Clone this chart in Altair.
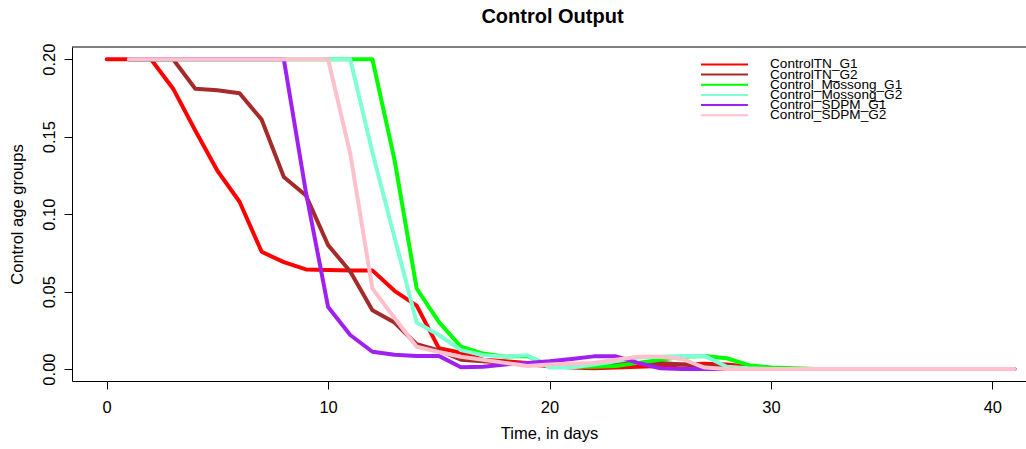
import altair as alt
import pandas as pd

series_names = ["ControlTN_G1", "ControlTN_G2", "Control_Mossong_G1",
                "Control_Mossong_G2", "Control_SDPM_G1", "Control_SDPM_G2"]
series_colors = ["#FF0000", "#A52A2A", "#00FF00", "#7FFFD4", "#A020F0", "#FFC0CB"]
start_days = [0, 1, 1, 1, 1, 1]

tn_g1 = [0.2, 0.2, 0.2, 0.181, 0.154, 0.128, 0.108, 0.0757, 0.069, 0.0643,
         0.064, 0.0637, 0.0637, 0.0505, 0.041, 0.0135, 0.0105, 0.006, 0.005, 0.004,
         0.002, 0.001, 0.0005, 0.001, 0.0015, 0.002, 0.003, 0.0035, 0.003, 0.0015,
         0.0005] + [0.0] * 11
tn_g2 = [0.2, 0.2, 0.2, 0.181, 0.180, 0.178, 0.161, 0.124, 0.112, 0.080,
         0.063, 0.038, 0.030, 0.016, 0.012, 0.006, 0.005, 0.004, 0.003, 0.002,
         0.002, 0.003, 0.004, 0.004, 0.004, 0.003, 0.002, 0.001] + [0.0] * 13
mossong_g1 = [0.2] * 12 + [0.135, 0.052, 0.0305, 0.0144, 0.010, 0.008, 0.0085, 0.002,
                           0.0015, 0.0015, 0.002, 0.004, 0.006, 0.008, 0.0085, 0.007,
                           0.0025, 0.001, 0.0005] + [0.0] * 10
mossong_g2 = [0.2] * 11 + [0.14, 0.085, 0.030, 0.022, 0.0122, 0.009, 0.008, 0.009,
                           0.001, 0.001, 0.003, 0.005, 0.0075, 0.008, 0.0085, 0.0085,
                           0.0015, 0.0005] + [0.0] * 12
sdpm_g1 = [0.2] * 8 + [0.114, 0.040, 0.022, 0.0112, 0.0092, 0.0085, 0.0085, 0.0012,
                       0.0015, 0.003, 0.004, 0.005, 0.0065, 0.0082, 0.0082, 0.004,
                       0.0005] + [0.0] * 16
sdpm_g2 = [0.2] * 10 + [0.139, 0.052, 0.033, 0.0144, 0.011, 0.008, 0.006, 0.004,
                        0.002, 0.003, 0.0035, 0.004, 0.006, 0.008, 0.008, 0.0065,
                        0.001] + [0.0] * 14

series_values = [tn_g1, tn_g2, mossong_g1, mossong_g2, sdpm_g1, sdpm_g2]
x_ticks = [0, 10, 20, 30, 40]
y_ticks = [0.0, 0.05, 0.10, 0.15, 0.20]

rows = []
for name, start, vals in zip(series_names, start_days, series_values):
    for i, v in enumerate(vals):
        rows.append({"series": name, "day": start + i, "value": v})
df = pd.DataFrame(rows)

W, H = 954, 334
FONT = "Liberation Sans"

x_scale = alt.Scale(domain=[-1.567, 41.52], nice=False, zero=False)
y_scale = alt.Scale(domain=[-0.0077, 0.2079], nice=False, zero=False)
color_scale = alt.Scale(domain=series_names, range=series_colors)

x_axis = alt.Axis(values=x_ticks, title="Time, in days", grid=False,
                  domainColor="black", tickColor="black", tickSize=8,
                  labelFont=FONT, labelFontSize=16.5, labelColor="black",
                  labelPadding=10, labelFlush=False,
                  titleFont=FONT, titleFontSize=16.5, titleFontWeight="normal",
                  titleColor="black", titlePadding=10)
y_axis = alt.Axis(values=y_ticks, format=".2f", title="Control age groups", grid=False,
                  domainColor="black", tickColor="black", tickSize=8,
                  labelFont=FONT, labelFontSize=16.5, labelColor="black",
                  labelAngle=270, labelAlign="center", labelBaseline="alphabetic",
                  labelPadding=10, labelFlush=False,
                  titleFont=FONT, titleFontSize=16.5, titleFontWeight="normal",
                  titleColor="black", titleAngle=270, titleAlign="center",
                  titleBaseline="middle", titleX=-55, titleY=H / 2)

base = alt.Chart(df)
line_layers = []
for name in series_names:
    line_layers.append(
        base.transform_filter(alt.datum.series == name)
        .mark_line(strokeWidth=4, strokeCap="round", strokeJoin="round")
        .encode(
            x=alt.X("day:Q", scale=x_scale, axis=x_axis),
            y=alt.Y("value:Q", scale=y_scale, axis=y_axis),
            color=alt.Color("series:N", scale=color_scale, legend=None),
        )
    )

frame_top = alt.Chart(pd.DataFrame({"k": [0]})).mark_rule(color="black", strokeWidth=1).encode(
    x=alt.value(0), x2=alt.value(W), y=alt.value(0)
)

lines = alt.layer(*line_layers, frame_top)

legend_df = pd.DataFrame({"series": series_names})
leg_y = alt.Y("series:N", scale=alt.Scale(domain=series_names, range=[12.3, 73.3], padding=0),
              axis=None)
legend_rules = alt.Chart(legend_df).mark_rule(strokeWidth=2).encode(
    x=alt.value(629), x2=alt.value(676), y=leg_y,
    color=alt.Color("series:N", scale=color_scale, legend=None),
)
legend_text = alt.Chart(legend_df).mark_text(
    align="left", baseline="middle", font=FONT, fontSize=13.6, color="black"
).encode(x=alt.value(698), y=leg_y, text="series:N")
legend = alt.layer(legend_rules, legend_text)

chart = (
    alt.layer(lines, legend)
    .resolve_scale(y="independent")
    .properties(
        width=W, height=H,
        title=alt.TitleParams("Control Output", font=FONT, fontSize=20, fontWeight="bold",
                              color="black", anchor="middle", dx=3.5, offset=0,
                              baseline="alphabetic"),
        autosize=alt.AutoSizeParams(type="none"),
        padding={"left": 72, "top": 47, "right": 0, "bottom": 68},
        background="white",
    )
    .configure_view(stroke=None)
)

chart.save("out.html", embed_options={"renderer": "svg", "actions": False})
